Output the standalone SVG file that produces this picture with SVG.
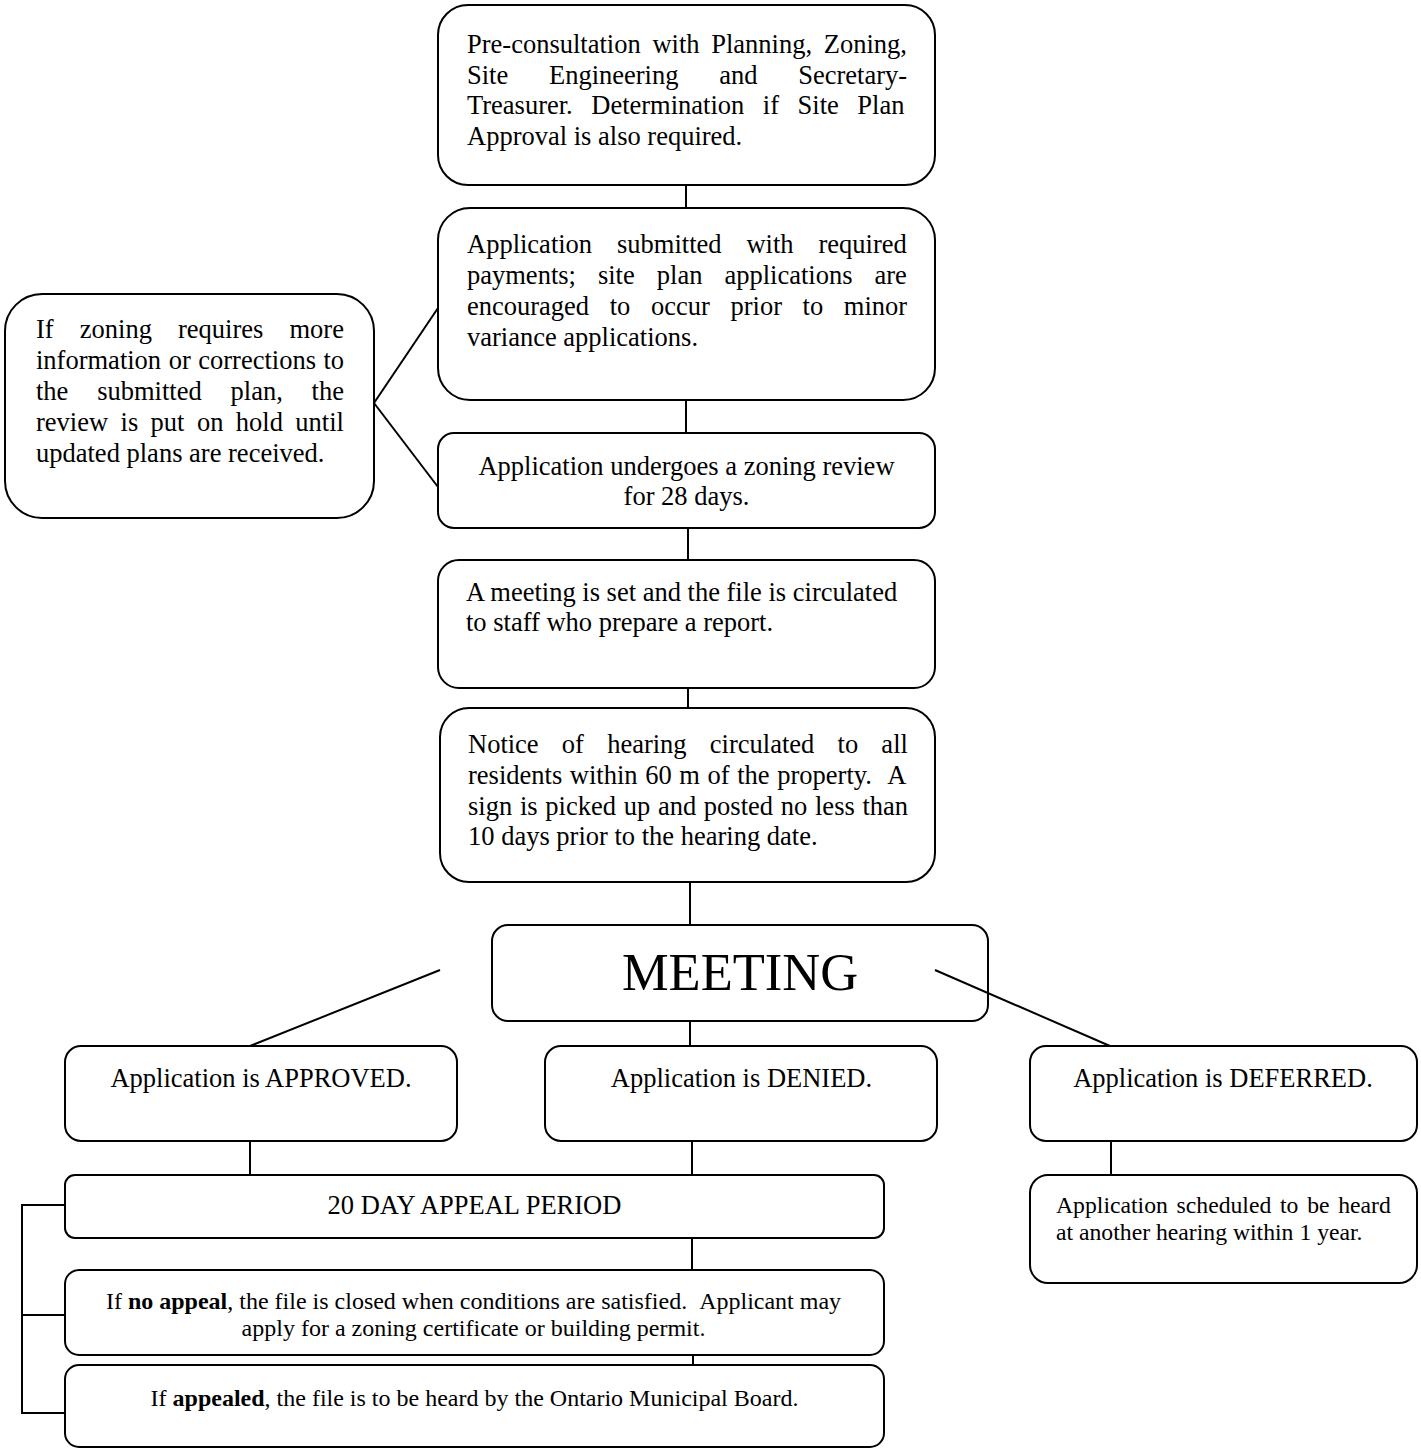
<svg xmlns="http://www.w3.org/2000/svg" width="1421" height="1449" viewBox="0 0 1421 1449">
<style>
.box{fill:#fff;stroke:#000;stroke-width:2}
.ln{stroke:#000;stroke-width:2;fill:none}
text{font-family:"Liberation Serif","Times New Roman",serif;fill:#000;font-size:26.5px}
.c{text-anchor:middle}
.s{font-size:23.7px}
.b{font-size:24px}
</style>
<rect width="1421" height="1449" fill="#fff"/>
<g id="n1">
<rect class="box" x="438" y="5" width="497" height="180" rx="30"/>
<text><tspan x="467" y="53" word-spacing="5.1">Pre-consultation with Planning, Zoning,</tspan><tspan x="467" y="83.5" word-spacing="34.1">Site Engineering and Secretary-</tspan><tspan x="467" y="114" word-spacing="11.9">Treasurer. Determination if Site Plan</tspan><tspan x="467" y="144.5">Approval is also required.</tspan></text>
</g>
<g id="n2">
<rect class="box" x="438" y="208" width="497" height="192" rx="32"/>
<text><tspan x="467" y="253" word-spacing="18.3">Application submitted with required</tspan><tspan x="467" y="284" word-spacing="15.4">payments; site plan applications are</tspan><tspan x="467" y="315" word-spacing="14">encouraged to occur prior to minor</tspan><tspan x="467" y="345.5">variance applications.</tspan></text>
</g>
<g id="n3">
<rect class="box" x="438" y="433" width="497" height="95" rx="16"/>
<text class="c"><tspan x="686.5" y="475">Application undergoes a zoning review</tspan><tspan x="686.5" y="505">for 28 days.</tspan></text>
</g>
<g id="n4">
<rect class="box" x="438" y="560" width="497" height="128" rx="21"/>
<text><tspan x="466" y="601">A meeting is set and the file is circulated</tspan><tspan x="466" y="631">to staff who prepare a report.</tspan></text>
</g>
<g id="n5">
<rect class="box" x="440" y="708" width="495" height="174" rx="29"/>
<text><tspan x="468" y="753" word-spacing="16.6">Notice of hearing circulated to all</tspan><tspan x="468" y="784" word-spacing="1">residents within 60 m of the property. &#160;A</tspan><tspan x="468" y="815" word-spacing="1.1">sign is picked up and posted no less than</tspan><tspan x="468" y="845">10 days prior to the hearing date.</tspan></text>
</g>
<g id="n6">
<rect class="box" x="5" y="294" width="369" height="224" rx="37"/>
<text><tspan x="36" y="338" word-spacing="19.5">If zoning requires more</tspan><tspan x="36" y="369" word-spacing="0.9">information or corrections to</tspan><tspan x="36" y="400" word-spacing="22.2">the submitted plan, the</tspan><tspan x="36" y="431" word-spacing="5.8">review is put on hold until</tspan><tspan x="36" y="462">updated plans are received.</tspan></text>
</g>
<g id="n7">
<rect class="box" x="492" y="925" width="496" height="96" rx="16"/>
<text class="c" x="740" y="990" style="font-size:52.5px">MEETING</text>
</g>
<g id="n8">
<rect class="box" x="65" y="1046" width="392" height="95" rx="16"/>
<text class="c" x="261" y="1087">Application is APPROVED.</text>
</g>
<g id="n9">
<rect class="box" x="545" y="1046" width="392" height="95" rx="16"/>
<text class="c" x="741.5" y="1087">Application is DENIED.</text>
</g>
<g id="n10">
<rect class="box" x="1030" y="1046" width="387" height="95" rx="16"/>
<text class="c" x="1223" y="1087">Application is DEFERRED.</text>
</g>
<g id="n11">
<rect class="box" x="1030" y="1175" width="387" height="108" rx="18"/>
<text class="s"><tspan x="1056" y="1213" word-spacing="2.8">Application scheduled to be heard</tspan><tspan x="1056" y="1240">at another hearing within 1 year.</tspan></text>
</g>
<g id="n12">
<rect class="box" x="65" y="1175" width="819" height="63" rx="10"/>
<text class="c" x="474.5" y="1214">20 DAY APPEAL PERIOD</text>
</g>
<g id="n13">
<rect class="box" x="65" y="1270" width="819" height="85" rx="14"/>
<text class="c b"><tspan x="473.5" y="1309">If <tspan font-weight="bold">no appeal</tspan>, the file is closed when conditions are satisfied. &#160;Applicant may</tspan><tspan x="473.5" y="1336">apply for a zoning certificate or building permit.</tspan></text>
</g>
<g id="n14">
<rect class="box" x="65" y="1365" width="819" height="82" rx="14"/>
<text class="c b" x="474.5" y="1406">If <tspan font-weight="bold">appealed</tspan>, the file is to be heard by the Ontario Municipal Board.</text>
</g>
<g id="connectors">
<line class="ln" x1="686" y1="185" x2="686" y2="208"/>
<line class="ln" x1="686" y1="400" x2="686" y2="433"/>
<line class="ln" x1="688" y1="528" x2="688" y2="560"/>
<line class="ln" x1="688" y1="688" x2="688" y2="708"/>
<line class="ln" x1="690" y1="882" x2="690" y2="925"/>
<line class="ln" x1="690" y1="1021" x2="690" y2="1046"/>
<line class="ln" x1="440" y1="970" x2="250" y2="1046"/>
<line class="ln" x1="935" y1="970" x2="1110" y2="1046"/>
<line class="ln" x1="250" y1="1141" x2="250" y2="1175"/>
<line class="ln" x1="692" y1="1141" x2="692" y2="1175"/>
<line class="ln" x1="1111" y1="1141" x2="1111" y2="1175"/>
<line class="ln" x1="692" y1="1238" x2="692" y2="1270"/>
<line class="ln" x1="693" y1="1355" x2="693" y2="1365"/>
<line class="ln" x1="374" y1="403" x2="438" y2="308"/>
<line class="ln" x1="374" y1="403" x2="438" y2="487"/>
<polyline class="ln" points="65,1205 22,1205 22,1413 65,1413"/>
<line class="ln" x1="22" y1="1315" x2="65" y2="1315"/>
</g>
</svg>
